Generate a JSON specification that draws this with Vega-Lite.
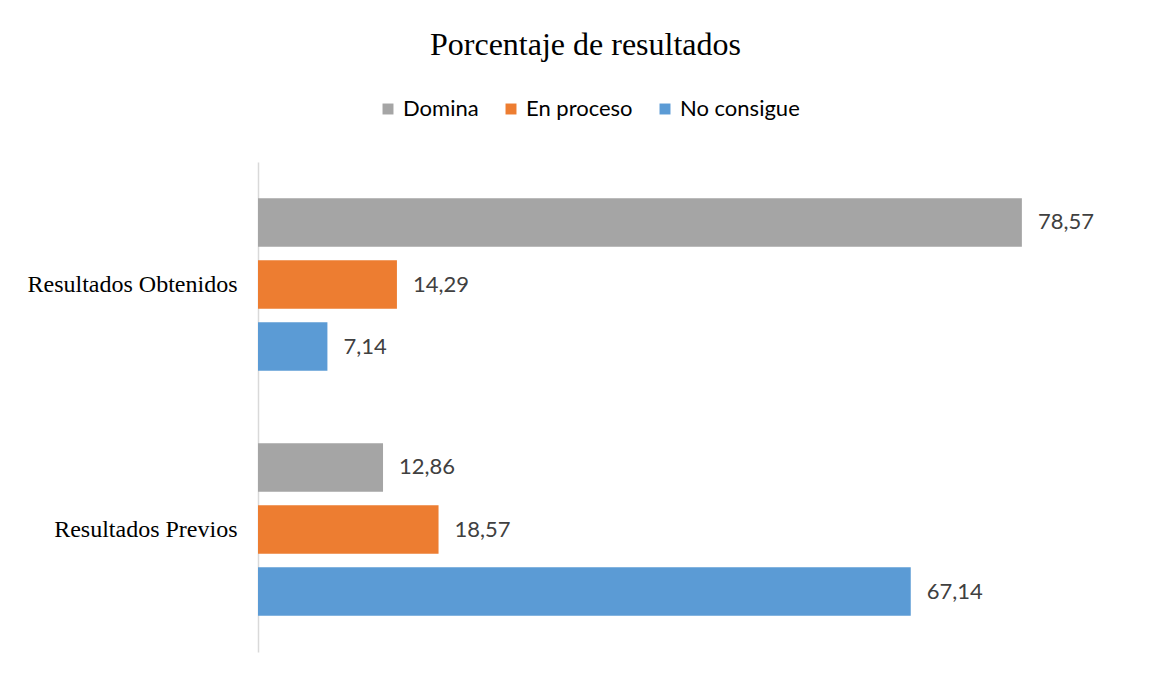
{
  "$schema": "https://vega.github.io/schema/vega-lite/v6.json",
  "autosize": "none",
  "width": 875,
  "height": 490,
  "padding": {"left": 258, "top": 162, "right": 16, "bottom": 23},
  "background": "white",
  "title": {
    "text": "Porcentaje de resultados",
    "font": "Liberation Serif",
    "fontSize": 32,
    "fontWeight": "normal",
    "color": "#000000",
    "anchor": "middle",
    "frame": "group",
    "dx": -110,
    "offset": 36
  },
  "data": {
    "values": [
      {"grupo": "Resultados Obtenidos", "nivel": "Domina", "orden": 1, "valor": 78.57, "etiqueta": "78,57"},
      {"grupo": "Resultados Obtenidos", "nivel": "En proceso", "orden": 2, "valor": 14.29, "etiqueta": "14,29"},
      {"grupo": "Resultados Obtenidos", "nivel": "No consigue", "orden": 3, "valor": 7.14, "etiqueta": "7,14"},
      {"grupo": "Resultados Previos", "nivel": "Domina", "orden": 1, "valor": 12.86, "etiqueta": "12,86"},
      {"grupo": "Resultados Previos", "nivel": "En proceso", "orden": 2, "valor": 18.57, "etiqueta": "18,57"},
      {"grupo": "Resultados Previos", "nivel": "No consigue", "orden": 3, "valor": 67.14, "etiqueta": "67,14"}
    ]
  },
  "encoding": {
    "y": {
      "field": "grupo",
      "type": "nominal",
      "sort": ["Resultados Obtenidos", "Resultados Previos"],
      "scale": {"paddingInner": 0, "paddingOuter": 0},
      "axis": {
        "title": null,
        "ticks": false,
        "domainColor": "#d9d9d9",
        "domainWidth": 1.5,
        "labelFont": "Liberation Serif",
        "labelFontSize": 24,
        "labelColor": "#000000",
        "labelPadding": 21,
        "labelLimit": 0
      }
    },
    "yOffset": {
      "field": "nivel",
      "type": "nominal",
      "sort": ["Domina", "En proceso", "No consigue"],
      "scale": {"paddingInner": 0.22, "paddingOuter": 0.585}
    },
    "x": {
      "field": "valor",
      "type": "quantitative",
      "scale": {"domain": [0, 90]},
      "axis": null
    }
  },
  "layer": [
    {
      "mark": {"type": "bar"},
      "encoding": {
        "color": {
          "field": "nivel",
          "type": "nominal",
          "sort": ["Domina", "En proceso", "No consigue"],
          "scale": {"domain": ["Domina", "En proceso", "No consigue"], "range": ["#a5a5a5", "#ed7d31", "#5b9bd5"]},
          "legend": {
            "title": null,
            "orient": "none",
            "direction": "horizontal",
            "legendX": 119,
            "legendY": -64,
            "symbolType": "square",
            "symbolSize": 120,
            "symbolStrokeWidth": 0,
            "labelFont": "Lato",
            "labelFontSize": 22,
            "labelColor": "#000000",
            "labelOffset": 4,
            "columnPadding": 21
          }
        }
      }
    },
    {
      "mark": {"type": "text", "align": "left", "baseline": "middle", "dx": 16, "font": "Lato", "fontSize": 22, "color": "#404040"},
      "encoding": {"text": {"field": "etiqueta", "type": "nominal"}}
    }
  ],
  "config": {"view": {"stroke": null}}
}
